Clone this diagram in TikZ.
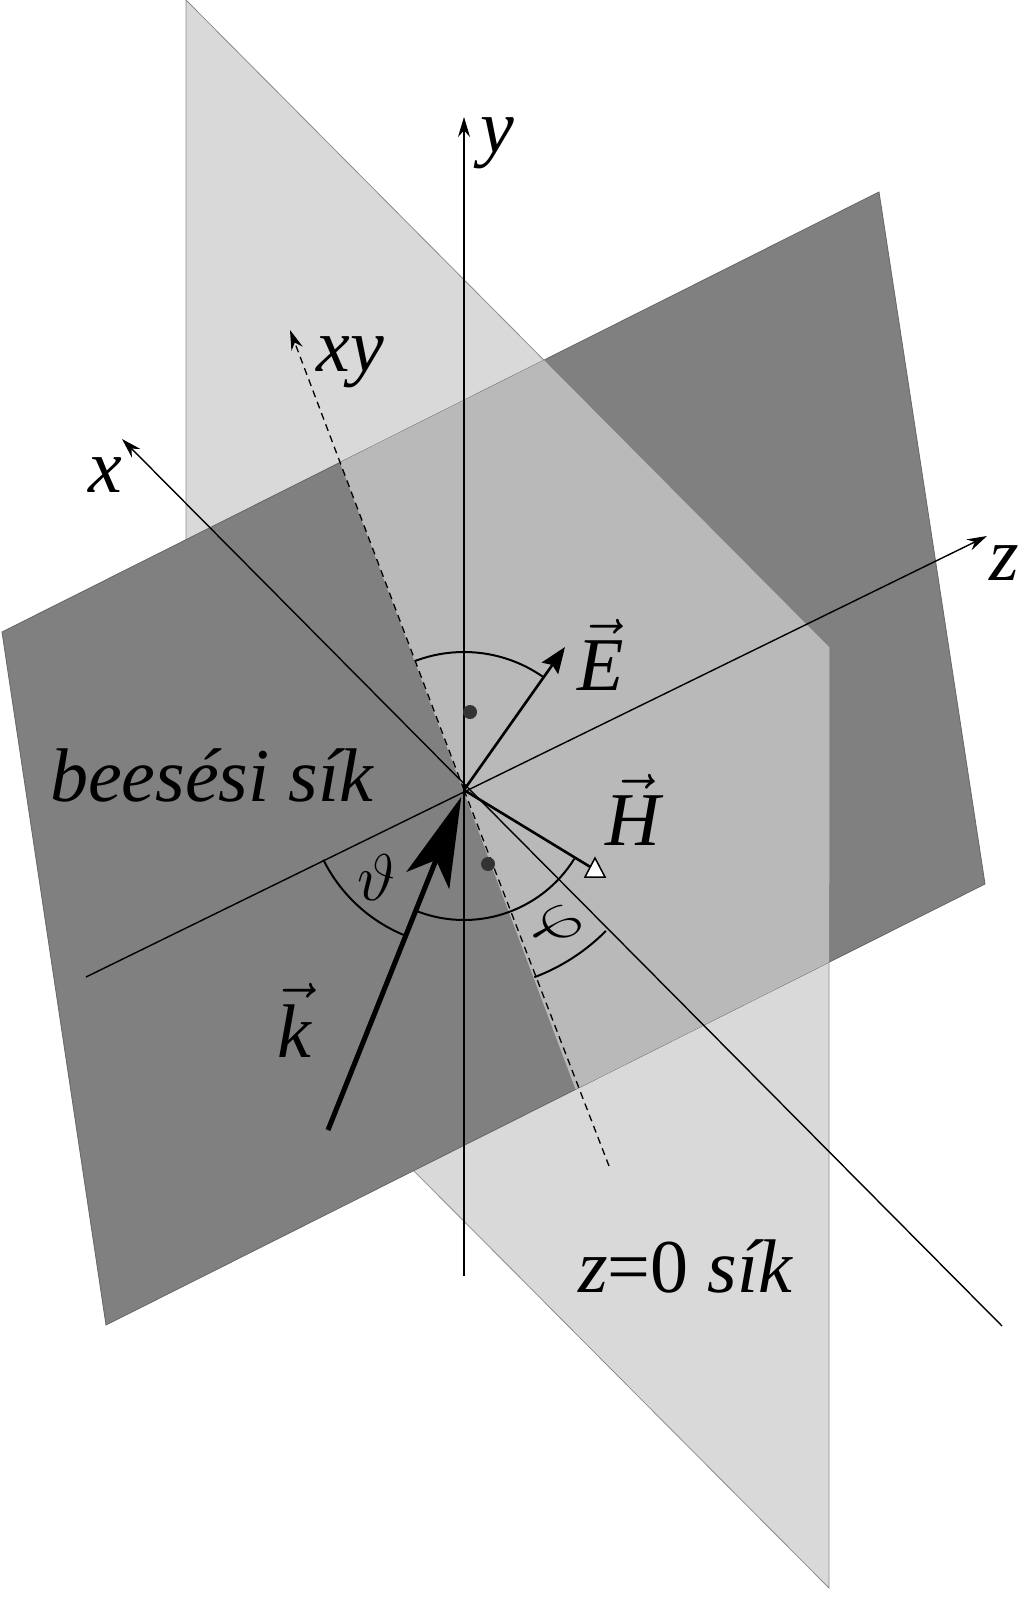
\RequirePackage{fix-cm}
\documentclass[tikz,border=0pt]{standalone}
\usepackage{fontspec}
\setmainfont{Liberation Serif}
\usetikzlibrary{arrows.meta,calc}
\definecolor{lightpl}{HTML}{D9D9D9}
\definecolor{darkpl}{HTML}{808080}
\definecolor{midpl}{HTML}{B9B9B9}
\begin{document}
\begin{tikzpicture}[x=1pt,y=-1pt,
  axisline/.style={line width=1.4pt,-{Stealth[length=20pt,width=12pt]}},
  vecline/.style={line width=2.6pt},
  anglearc/.style={line width=2pt},
  lbl/.style={font=\fontsize{76}{80}\selectfont\itshape, inner sep=0pt},
  edgeline/.style={draw=black!45, line width=0.8pt}]
\useasboundingbox (0,0) rectangle (1024,1602);
% planes
\coordinate (L1) at (186,0); \coordinate (L2) at (829,647);
\coordinate (L3) at (829,1588); \coordinate (L4) at (186,942);
\coordinate (D1) at (2,632); \coordinate (D2) at (879,192);
\coordinate (D3) at (985,884); \coordinate (D4) at (106,1325);
\fill[lightpl, edgeline] (L1) -- (L2) -- (L3) -- (L4) -- cycle;
\fill[darkpl, edgeline, draw=black!60] (D1) -- (D2) -- (D3) -- (D4) -- cycle;
\begin{scope}
  \clip (D1) -- (D2) -- (D3) -- (D4) -- cycle;
  \clip (L1) -- (L2) -- (L3) -- (L4) -- cycle;
  \fill[midpl] (87,-210) -- (839,1790) -- (1100,1790) -- (1100,-210) -- cycle;
\end{scope}
\draw[draw=black!40, line width=0.8pt] (829,647) -- (829,884);
% origin and axis ends
\coordinate (O) at (464,790);
\coordinate (yb) at (464,1276); \coordinate (yt) at (464,117);
\coordinate (xe) at (1002,1326); \coordinate (xt) at (122,439);
\coordinate (ze) at (86,977); \coordinate (zt) at (987,536);
\coordinate (xyb) at (609,1166); \coordinate (xyt) at (290,330);
\coordinate (Et) at (565,647);
\coordinate (Ht) at (592,868);
\coordinate (kb) at (328,1130);
\draw[axisline] (yb) -- (yt);
\draw[axisline] (xe) -- (xt);
\draw[axisline] (ze) -- (zt);
\draw[line width=1.3pt, dash pattern=on 7pt off 5pt] (xyb) -- (O);
\draw[line width=1.3pt, dash pattern=on 7pt off 5pt, -{Stealth[length=20pt,width=12pt]}] (O) -- (xyt);
% angle arcs (angles negated because y points down)
\draw[anglearc] (O) ++(-54.8:138) arc[start angle=-54.8, end angle=-110.6, radius=138];
\draw[anglearc] (O) ++(-247.8:130) arc[start angle=-247.8, end angle=-328, radius=130];
\draw[anglearc] (O) ++(-206.4:157) arc[start angle=-206.4, end angle=-247.8, radius=157];
\draw[anglearc] (O) ++(-290.6:200) arc[start angle=-290.6, end angle=-315.2, radius=200];
\fill[black!80] (470,712) circle (7pt);
\fill[black!80] (488,864) circle (7pt);
% vectors
\draw[vecline, -{Stealth[length=26pt,width=20pt,inset=4pt]}] (O) -- (Et);
\draw[vecline] (O) -- (Ht);
\draw[fill=white, line width=1.5pt] (585,877) -- (605,877) -- (595,858) -- cycle;
\draw[line width=5pt, -{Stealth[length=90pt,width=46pt,inset=22pt]}] (kb) -- ($(O)!0.02!(kb)$);
% labels
\node[lbl] (ly) at (497,143) {y};
\node[lbl] (lx) at (105,475) {x};
\node[lbl] (lz) at (1004,563) {z};
\node[lbl] (lxy) at (350,362) {xy};
\node[lbl] (lE) at (601,655) {$\vec{\textit{E}}$};
\node[lbl] (lH) at (633,810) {$\vec{\textit{H}}$};
\node[lbl] (lk) at (294,1020) {$\vec{\textit{k}}$};
\node[lbl, font=\fontsize{66}{70}\selectfont] (lth) at (377,878) {$\vartheta$};
\node[lbl, font=\fontsize{66}{70}\selectfont, rotate=-45] (lph) at (556,928) {$\varphi$};
\node[lbl, anchor=base west] (lbe) at (50,801) {beesési sík};
\node[lbl, anchor=base west] (lz0) at (578,1292) {z\textup{=0} sík};
\end{tikzpicture}
\end{document}
